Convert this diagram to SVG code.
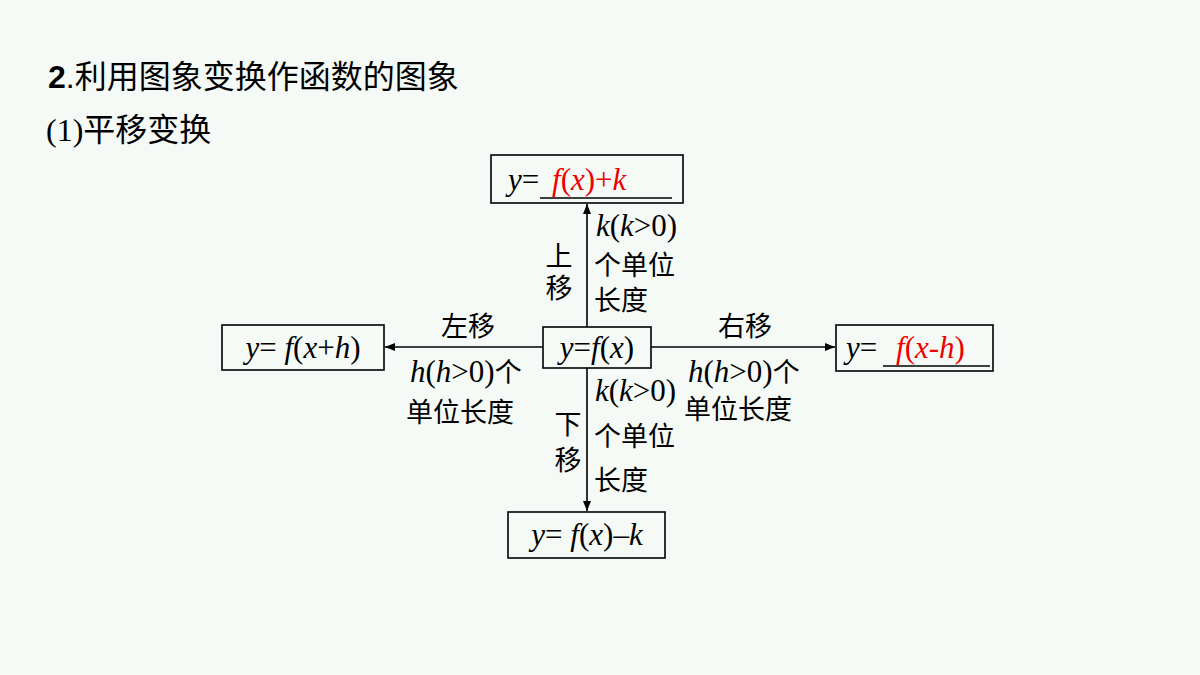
<svg xmlns="http://www.w3.org/2000/svg" width="1200" height="675" viewBox="0 0 1200 675">
<style>
.b{fill:none;stroke:#000;stroke-width:1.6}
.c{stroke:#000;stroke-width:1.6;fill:none}
.m{font-family:"Liberation Serif",serif;font-style:italic;font-size:31px}
.z{font-family:"Noto Sans CJK SC",sans-serif;font-size:27px}
text{fill:#000}
</style>
<defs><marker id="a" viewBox="0 0 10 10" refX="10" refY="5" markerWidth="10" markerHeight="10" markerUnits="userSpaceOnUse" orient="auto"><path d="M0,1L10,5L0,9z"/></marker></defs>
<rect width="1200" height="675" fill="#f6faf6"/>
<text x="48" y="88" style="font-family:'Liberation Sans','Noto Sans CJK SC',sans-serif;font-size:32px"><tspan font-weight="bold">2</tspan>.利用图象变换作函数的图象</text>
<text x="46" y="141" style="font-family:'Liberation Serif','Noto Sans CJK SC',sans-serif;font-size:32px">(1)平移变换</text>
<g id="connectors">
<line class="c" x1="587" y1="327" x2="587" y2="204" marker-end="url(#a)"/>
<line class="c" x1="587" y1="368" x2="587" y2="511" marker-end="url(#a)"/>
<line class="c" x1="543" y1="347" x2="385" y2="347" marker-end="url(#a)"/>
<line class="c" x1="651" y1="347" x2="835" y2="347" marker-end="url(#a)"/>
</g>
<g id="top"><rect class="b" x="491" y="155" width="192" height="48"/>
<text x="508" y="190" class="m">y<tspan font-style="normal">=</tspan></text>
<text x="552" y="190" class="m" style="fill:#e00">f<tspan font-style="normal">(</tspan>x<tspan font-style="normal">)+</tspan>k</text>
<line x1="540" y1="198" x2="672" y2="198" stroke="#000" stroke-width="1.5"/></g>
<g id="center"><rect class="b" x="543" y="327" width="108" height="41"/>
<text x="597" y="358" class="m" text-anchor="middle">y<tspan font-style="normal">=</tspan>f<tspan font-style="normal">(</tspan>x<tspan font-style="normal">)</tspan></text></g>
<g id="left"><rect class="b" x="222" y="325" width="162" height="45"/>
<text x="303" y="358" class="m" text-anchor="middle">y<tspan font-style="normal">= </tspan>f<tspan font-style="normal">(</tspan>x<tspan font-style="normal">+</tspan>h<tspan font-style="normal">)</tspan></text></g>
<g id="right"><rect class="b" x="836" y="325" width="157" height="46"/>
<text x="846" y="358" class="m">y<tspan font-style="normal">=</tspan></text>
<text x="896" y="358" class="m" style="fill:#e00">f<tspan font-style="normal">(</tspan>x<tspan font-style="normal">-</tspan>h<tspan font-style="normal">)</tspan></text>
<line x1="883" y1="366" x2="990" y2="366" stroke="#000" stroke-width="1.5"/></g>
<g id="bottom"><rect class="b" x="508" y="512" width="157" height="46"/>
<text x="587" y="545" class="m" text-anchor="middle">y<tspan font-style="normal">= </tspan>f<tspan font-style="normal">(</tspan>x<tspan font-style="normal">)–</tspan>k</text></g>
<g id="labels">
<text x="559" y="266" class="z" text-anchor="middle">上</text>
<text x="559" y="298" class="z" text-anchor="middle">移</text>
<text x="596" y="236" class="m">k<tspan font-style="normal">(</tspan>k<tspan font-style="normal">&gt;0)</tspan></text>
<text x="594" y="275" class="z">个单位</text>
<text x="594" y="310" class="z">长度</text>
<text x="468" y="336" class="z" text-anchor="middle">左移</text>
<text x="410" y="382" class="m">h<tspan font-style="normal">(</tspan>h<tspan font-style="normal">&gt;0)</tspan><tspan style="font-family:'Noto Sans CJK SC',sans-serif;font-style:normal;font-size:27px">个</tspan></text>
<text x="406" y="422" class="z">单位长度</text>
<text x="745" y="336" class="z" text-anchor="middle">右移</text>
<text x="688" y="382" class="m">h<tspan font-style="normal">(</tspan>h<tspan font-style="normal">&gt;0)</tspan><tspan style="font-family:'Noto Sans CJK SC',sans-serif;font-style:normal;font-size:27px">个</tspan></text>
<text x="684" y="419" class="z">单位长度</text>
<text x="568" y="434" class="z" text-anchor="middle">下</text>
<text x="568" y="470" class="z" text-anchor="middle">移</text>
<text x="595" y="401" class="m">k<tspan font-style="normal">(</tspan>k<tspan font-style="normal">&gt;0)</tspan></text>
<text x="594" y="446" class="z">个单位</text>
<text x="594" y="490" class="z">长度</text>
</g>
</svg>
